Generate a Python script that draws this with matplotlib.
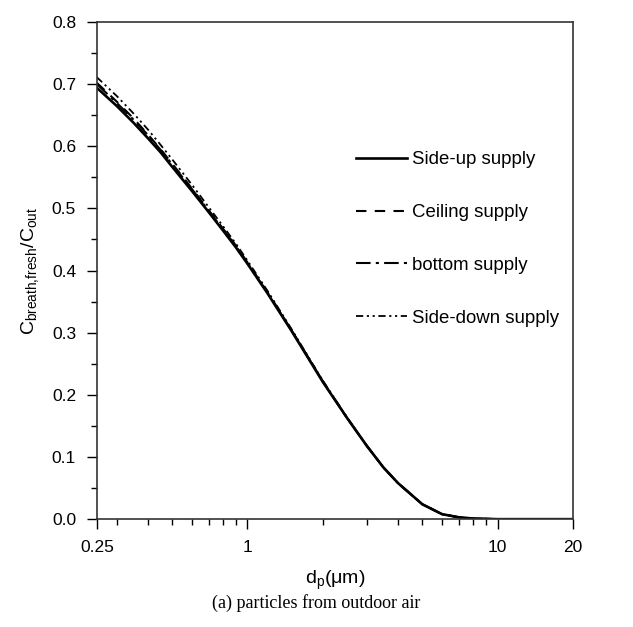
import numpy as np
import matplotlib
matplotlib.use("Agg")
import matplotlib.pyplot as plt
from matplotlib.ticker import FixedLocator, NullFormatter, MultipleLocator

plt.rcParams['font.family'] = ['Liberation Sans', 'DejaVu Sans']
plt.rcParams['mathtext.fontset'] = 'custom'
plt.rcParams['mathtext.rm'] = 'Liberation Sans'
plt.rcParams['mathtext.it'] = 'Liberation Sans'

# particle diameter (um)
dp = [0.25, 0.3, 0.35, 0.4, 0.45, 0.5, 0.6, 0.7, 0.8, 0.9, 1.0, 1.2, 1.5,
      2.0, 2.5, 3.0, 3.5, 4.0, 5.0, 6.0, 7.0, 8.0, 10, 15, 20]

side_up = [0.694, 0.665, 0.638, 0.613, 0.590, 0.567, 0.528, 0.494, 0.464,
           0.437, 0.411, 0.364, 0.303, 0.221, 0.163, 0.118, 0.083, 0.058,
           0.024, 0.008, 0.003, 0.001, 0.0, 0.0, 0.0]
ceiling = [0.702, 0.672, 0.645, 0.619, 0.595, 0.572, 0.532, 0.497, 0.467,
           0.440, 0.413, 0.366, 0.304, 0.222, 0.163, 0.118, 0.083, 0.058,
           0.024, 0.008, 0.003, 0.001, 0.0, 0.0, 0.0]
bottom = [0.700, 0.670, 0.643, 0.618, 0.594, 0.571, 0.531, 0.496, 0.466,
          0.439, 0.412, 0.365, 0.304, 0.222, 0.163, 0.118, 0.083, 0.058,
          0.024, 0.008, 0.003, 0.001, 0.0, 0.0, 0.0]
side_down = [0.711, 0.681, 0.653, 0.627, 0.602, 0.579, 0.538, 0.502, 0.471,
             0.443, 0.416, 0.368, 0.306, 0.223, 0.164, 0.118, 0.083, 0.058,
             0.024, 0.008, 0.003, 0.001, 0.0, 0.0, 0.0]

labels = ["Side-up supply", "Ceiling supply", "bottom supply", "Side-down supply"]
xticks = [0.25, 1, 10, 20]
xticklabels = ["0.25", "1", "10", "20"]

fig = plt.figure(figsize=(6.33, 6.27), dpi=100)
ax = fig.add_axes([0.153, 0.172, 0.752, 0.793])

ax.plot(dp, side_up, color='black', lw=1.9, ls='-', label=labels[0])
ax.plot(dp, ceiling, color='black', lw=1.5, ls=(0, (5, 4)), label=labels[1])
ax.plot(dp, bottom, color='black', lw=1.5, ls=(0, (7, 2.5, 1.5, 2.5)), label=labels[2])
ax.plot(dp, side_down, color='black', lw=1.3,
        ls=(0, (4, 2, 1.2, 2, 1.2, 2)), label=labels[3])

ax.set_xscale('log')
ax.set_xlim(0.25, 20)
ax.set_ylim(0, 0.8)
ax.xaxis.set_major_locator(FixedLocator(xticks))
ax.set_xticklabels(xticklabels)
minor = [0.3, 0.4, 0.5, 0.6, 0.7, 0.8, 0.9, 2, 3, 4, 5, 6, 7, 8, 9]
ax.xaxis.set_minor_locator(FixedLocator(minor))
ax.xaxis.set_minor_formatter(NullFormatter())
ax.yaxis.set_major_locator(MultipleLocator(0.1))
ax.yaxis.set_minor_locator(MultipleLocator(0.05))
ax.tick_params(which='both', direction='out', top=False, right=False,
               labelsize=12.5, width=1)
ax.tick_params(which='major', length=7, pad=8)
ax.tick_params(which='minor', length=4)
for s in ax.spines.values():
    s.set_linewidth(1.2)
    s.set_color('#333333')

ax.set_xlabel(r'd$_\mathregular{p}$($\mathregular{\mu}$m)', fontsize=14, labelpad=10)
ax.set_ylabel(r'C$_\mathregular{breath{,}fresh}$/C$_\mathregular{out}$', fontsize=14, labelpad=8)

leg = ax.legend(loc='upper left', bbox_to_anchor=(0.51, 0.774), frameon=False,
                fontsize=13.4, handlelength=2.7, handletextpad=0.3,
                labelspacing=1.93)

fig.text(0.5, 0.038, "(a) particles from outdoor air", ha='center', va='center',
         fontsize=13, family='Liberation Serif')

fig.savefig('out.png', dpi=100)
